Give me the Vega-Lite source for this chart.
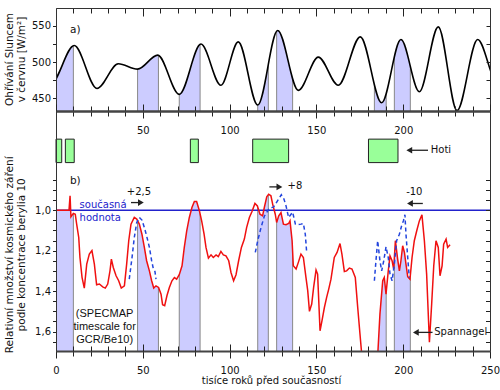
{
  "$schema": "https://vega.github.io/schema/vega-lite/v6.json",
  "padding": {"left": 3, "top": 7, "right": 5, "bottom": 5},
  "config": {"view": {"stroke": null}, "axis": {"grid": false}, "font": "DejaVu Sans"},
  "datasets": {
    "topCurve": [
      {"x": -15, "v": 515}, {"x": -3, "v": 470}, {"x": 10.5, "v": 523}, {"x": 23.6, "v": 463.6}, {"x": 35.9, "v": 497.7},
      {"x": 47, "v": 490.3}, {"x": 58.6, "v": 509.7}, {"x": 71, "v": 455.4}, {"x": 83.5, "v": 525},
      {"x": 95, "v": 468}, {"x": 105, "v": 528}, {"x": 116.2, "v": 440.6}, {"x": 127.7, "v": 543.8},
      {"x": 139.6, "v": 461}, {"x": 151.1, "v": 507}, {"x": 162.6, "v": 468}, {"x": 175.3, "v": 535},
      {"x": 187.6, "v": 443.8}, {"x": 198.7, "v": 531.3}, {"x": 209.3, "v": 459}, {"x": 220.2, "v": 548.8},
      {"x": 231, "v": 433}, {"x": 242.9, "v": 531.3}, {"x": 254, "v": 473}, {"x": 266, "v": 530}
    ],
    "red": [
      {"x": 0, "v": 1.0}, {"x": 7.5, "v": 1.0}, {"x": 8.1, "v": 0.929}, {"x": 8.6, "v": 1.033},
      {"x": 10, "v": 1.016}, {"x": 11.1, "v": 1.02}, {"x": 11.9, "v": 1.069}, {"x": 13.1, "v": 1.135},
      {"x": 13.8, "v": 1.234}, {"x": 15, "v": 1.332}, {"x": 16.3, "v": 1.385}, {"x": 17.7, "v": 1.267},
      {"x": 19.2, "v": 1.217}, {"x": 20.7, "v": 1.2}, {"x": 22.1, "v": 1.267}, {"x": 23.4, "v": 1.369},
      {"x": 25, "v": 1.365}, {"x": 26.9, "v": 1.379}, {"x": 28.4, "v": 1.385}, {"x": 29.8, "v": 1.365},
      {"x": 31.1, "v": 1.3}, {"x": 31.9, "v": 1.242}, {"x": 33, "v": 1.283}, {"x": 34.6, "v": 1.324},
      {"x": 36.1, "v": 1.349}, {"x": 37.6, "v": 1.385}, {"x": 39.4, "v": 1.374}, {"x": 40.7, "v": 1.267},
      {"x": 41.9, "v": 1.151}, {"x": 43.2, "v": 1.069}, {"x": 45.1, "v": 1.036}, {"x": 46.5, "v": 1.044},
      {"x": 48, "v": 1.069}, {"x": 49.5, "v": 1.119}, {"x": 50.9, "v": 1.184}, {"x": 52.2, "v": 1.25},
      {"x": 53.8, "v": 1.3}, {"x": 55.1, "v": 1.349}, {"x": 56.3, "v": 1.385}, {"x": 57.6, "v": 1.374},
      {"x": 59.1, "v": 1.382}, {"x": 60.5, "v": 1.415}, {"x": 61.4, "v": 1.467}, {"x": 62.6, "v": 1.472},
      {"x": 63.9, "v": 1.423}, {"x": 65.3, "v": 1.382}, {"x": 66.8, "v": 1.349}, {"x": 68.2, "v": 1.333},
      {"x": 69.5, "v": 1.341}, {"x": 71, "v": 1.319}, {"x": 72.6, "v": 1.275}, {"x": 73.9, "v": 1.184},
      {"x": 75.3, "v": 1.102}, {"x": 76.8, "v": 1.036}, {"x": 78.3, "v": 0.987}, {"x": 79.7, "v": 0.957},
      {"x": 81, "v": 0.957}, {"x": 82.6, "v": 1.003}, {"x": 83.9, "v": 1.053}, {"x": 85.3, "v": 1.119},
      {"x": 86.4, "v": 1.184}, {"x": 87.8, "v": 1.237}, {"x": 89.3, "v": 1.221}, {"x": 90.6, "v": 1.234},
      {"x": 92.2, "v": 1.221}, {"x": 93.5, "v": 1.23}, {"x": 95, "v": 1.204}, {"x": 96.4, "v": 1.221},
      {"x": 97.9, "v": 1.226}, {"x": 99.5, "v": 1.25}, {"x": 100.8, "v": 1.308}, {"x": 102.3, "v": 1.349},
      {"x": 103.7, "v": 1.319}, {"x": 105.2, "v": 1.25}, {"x": 106.8, "v": 1.184}, {"x": 108.5, "v": 1.143},
      {"x": 109.8, "v": 1.086}, {"x": 111.4, "v": 1.036}, {"x": 112.9, "v": 1.007}, {"x": 114.6, "v": 0.967},
      {"x": 116, "v": 0.979}, {"x": 117.5, "v": 1.02}, {"x": 119, "v": 1.028}, {"x": 120, "v": 0.987},
      {"x": 121.4, "v": 0.934}, {"x": 122.5, "v": 0.921}, {"x": 123.8, "v": 0.929}, {"x": 124.8, "v": 0.97},
      {"x": 126.3, "v": 1.02}, {"x": 127.1, "v": 1.061}, {"x": 128.3, "v": 1.028}, {"x": 129.6, "v": 1.012},
      {"x": 131, "v": 1.069}, {"x": 132.5, "v": 1.072}, {"x": 134, "v": 1.066}, {"x": 134.8, "v": 1.053},
      {"x": 136, "v": 1.151}, {"x": 136.7, "v": 1.275}, {"x": 138.3, "v": 1.291}, {"x": 139.6, "v": 1.258},
      {"x": 141.1, "v": 1.217}, {"x": 142.5, "v": 1.234}, {"x": 144, "v": 1.333}, {"x": 145, "v": 1.398},
      {"x": 146, "v": 1.5}, {"x": 147.3, "v": 1.464}, {"x": 148.4, "v": 1.382}, {"x": 149.8, "v": 1.296},
      {"x": 150.7, "v": 1.316}, {"x": 152.1, "v": 1.596}, {"x": 153.2, "v": 1.547}, {"x": 154.6, "v": 1.481},
      {"x": 155.9, "v": 1.431}, {"x": 157.1, "v": 1.39}, {"x": 158.4, "v": 1.341}, {"x": 160.3, "v": 1.234},
      {"x": 161.9, "v": 1.209}, {"x": 163.6, "v": 1.165}, {"x": 164.7, "v": 1.217}, {"x": 166.1, "v": 1.303},
      {"x": 167.4, "v": 1.3}, {"x": 169, "v": 1.286}, {"x": 170.5, "v": 1.291}, {"x": 172.4, "v": 1.333},
      {"x": 173.8, "v": 1.481}, {"x": 175.1, "v": 1.612}, {"x": 177.5, "v": 1.85}, {"x": 184.5, "v": 1.85},
      {"x": 186.6, "v": 1.514}, {"x": 188.2, "v": 1.349}, {"x": 189.1, "v": 1.333}, {"x": 190.1, "v": 1.415},
      {"x": 191.4, "v": 1.3}, {"x": 192.4, "v": 1.226}, {"x": 193.6, "v": 1.25}, {"x": 194.5, "v": 1.291},
      {"x": 195.5, "v": 1.151}, {"x": 196.8, "v": 1.242}, {"x": 197.8, "v": 1.3}, {"x": 198.7, "v": 1.25},
      {"x": 199.7, "v": 1.176}, {"x": 200.7, "v": 1.209}, {"x": 201.6, "v": 1.267}, {"x": 202.6, "v": 1.329},
      {"x": 203.9, "v": 1.341}, {"x": 205.1, "v": 1.234}, {"x": 206.4, "v": 1.151}, {"x": 207.8, "v": 1.102},
      {"x": 209.3, "v": 1.053}, {"x": 210.8, "v": 1.023}, {"x": 212.2, "v": 1.151}, {"x": 213.5, "v": 1.316},
      {"x": 215.1, "v": 1.653}, {"x": 216.4, "v": 1.464}, {"x": 217.6, "v": 1.275}, {"x": 218.9, "v": 1.151},
      {"x": 220.2, "v": 1.184}, {"x": 221.2, "v": 1.324}, {"x": 222.4, "v": 1.275}, {"x": 223.3, "v": 1.168},
      {"x": 224.7, "v": 1.143}, {"x": 225.6, "v": 1.184}, {"x": 227, "v": 1.171}
    ],
    "blue": [
      {"s": 1, "x": 42.2, "v": 1.341}, {"s": 1, "x": 43.8, "v": 1.234}, {"s": 1, "x": 45.1, "v": 1.135},
      {"s": 1, "x": 46.5, "v": 1.061}, {"s": 1, "x": 48, "v": 1.036}, {"s": 1, "x": 49.5, "v": 1.049},
      {"s": 1, "x": 50.9, "v": 1.086}, {"s": 1, "x": 52.2, "v": 1.127}, {"s": 1, "x": 53.8, "v": 1.184},
      {"s": 1, "x": 55.1, "v": 1.25}, {"s": 1, "x": 56.1, "v": 1.291}, {"s": 1, "x": 57, "v": 1.303},
      {"s": 1, "x": 57.6, "v": 1.341},
      {"s": 2, "x": 114.8, "v": 1.209}, {"s": 2, "x": 116.2, "v": 1.151}, {"s": 2, "x": 118.1, "v": 1.086},
      {"s": 2, "x": 120, "v": 1.03}, {"s": 2, "x": 122.9, "v": 0.99}, {"s": 2, "x": 125.3, "v": 0.985},
      {"s": 2, "x": 127.5, "v": 0.955}, {"s": 2, "x": 129.8, "v": 0.924}, {"s": 2, "x": 131.3, "v": 0.945},
      {"s": 2, "x": 132.5, "v": 0.979}, {"s": 2, "x": 134, "v": 1.036}, {"s": 2, "x": 135.4, "v": 1.02},
      {"s": 2, "x": 136.3, "v": 1.01}, {"s": 2, "x": 137.9, "v": 1.069}, {"s": 2, "x": 139.2, "v": 1.072},
      {"s": 2, "x": 141.1, "v": 1.069}, {"s": 2, "x": 142.5, "v": 1.066}, {"s": 2, "x": 143.6, "v": 1.119},
      {"s": 2, "x": 144.4, "v": 1.209},
      {"s": 3, "x": 183.4, "v": 1.349}, {"s": 3, "x": 184.3, "v": 1.25}, {"s": 3, "x": 185.3, "v": 1.151},
      {"s": 3, "x": 186.6, "v": 1.25}, {"s": 3, "x": 187.6, "v": 1.3}, {"s": 3, "x": 188.8, "v": 1.25},
      {"s": 3, "x": 190.1, "v": 1.181}, {"s": 3, "x": 191.4, "v": 1.234}, {"s": 3, "x": 192.4, "v": 1.316},
      {"s": 3, "x": 193.6, "v": 1.349}, {"s": 3, "x": 194.9, "v": 1.267}, {"s": 3, "x": 196.2, "v": 1.151},
      {"s": 3, "x": 197.8, "v": 1.119}, {"s": 3, "x": 199.1, "v": 1.077}, {"s": 3, "x": 200.1, "v": 1.053},
      {"s": 3, "x": 201, "v": 1.023}, {"s": 3, "x": 201.6, "v": 1.119}, {"s": 3, "x": 202.6, "v": 1.234},
      {"s": 3, "x": 203.5, "v": 1.333}
    ],
    "gaps": [
      {"a": 10, "b": 47}, {"a": 59, "b": 71}, {"a": 83, "b": 116.2}, {"a": 122.3, "b": 127.1},
      {"a": 136.3, "b": 183.4}, {"a": 190.2, "b": 194.9}, {"a": 204.1, "b": 255}
    ],
    "bounds": [
      {"b": 10}, {"b": 47}, {"b": 59}, {"b": 71}, {"b": 83}, {"b": 116.2}, {"b": 122.3},
      {"b": 127.1}, {"b": 136.3}, {"b": 183.4}, {"b": 190.2}, {"b": 194.9}, {"b": 204.1}
    ],
    "hoti": [
      {"a": 0, "b": 3.3}, {"a": 5.4, "b": 10.5}, {"a": 77.4, "b": 82}, {"a": 113.3, "b": 134}, {"a": 180, "b": 197}
    ]
  },
  "spacing": 0,
  "bounds": "flush",
  "vconcat": [
    {
      "width": 434,
      "height": 103,
      "resolve": {"axis": {"x": "independent", "y": "independent"}},
      "layer": [
        {
          "data": {"name": "topCurve"},
          "mark": {"type": "area", "interpolate": "monotone", "color": "#ccccff", "clip": true},
          "encoding": {
            "x": {"field": "x", "type": "quantitative", "scale": {"domain": [0, 250], "nice": false, "zero": false},
              "axis": {"orient": "bottom", "values": [0,10,20,30,40,50,60,70,80,90,100,110,120,130,140,150,160,170,180,190,200,210,220,230,240,250],
                "labelExpr": "datum.value % 50 == 0 && datum.value > 0 && datum.value < 250 ? datum.label : ''",
                "tickSize": {"condition": {"test": "datum.value % 50 == 0", "value": 7}, "value": 5},
                "tickColor": "#222", "domainColor": "#444", "domainWidth": 2, "labelFont": "DejaVu Sans", "labelFontSize": 10,
                "labelColor": "#111", "labelPadding": 7, "labelFlush": false, "labelOverlap": false, "labelBound": false,
                "title": null, "zindex": 1}},
            "y": {"field": "v", "type": "quantitative", "scale": {"domain": [432.4, 574.9], "nice": false, "zero": false},
              "axis": {"orient": "left", "values": [450, 475, 500, 525, 550], "labelExpr": "datum.value % 50 == 0 ? datum.label : ''",
                "tickSize": 3.5, "tickColor": "#222", "domainColor": "#333", "labelFont": "DejaVu Sans", "labelFontSize": 10,
                "labelColor": "#111", "labelPadding": 2, "labelOverlap": false,
                "title": ["Ohřívání Sluncem", "v červnu [W/m²]"], "titleFont": "DejaVu Sans", "titleFontSize": 10.5,
                "titleFontWeight": "normal", "titleColor": "#111", "titleX": -52, "titleY": 51, "titleAngle": -90,
                "titleAlign": "center", "titleBaseline": "top", "titleLineHeight": 12.7, "zindex": 1}},
            "y2": {"datum": 432.4}
          }
        },
        {
          "data": {"name": "gaps"},
          "mark": {"type": "rect", "color": "white", "clip": true},
          "encoding": {
            "x": {"field": "a", "type": "quantitative", "scale": {"domain": [0, 250], "nice": false, "zero": false},
              "axis": {"orient": "top", "values": [0,10,20,30,40,50,60,70,80,90,100,110,120,130,140,150,160,170,180,190,200,210,220,230,240,250],
                "labels": false, "tickSize": {"condition": {"test": "datum.value % 50 == 0", "value": -8}, "value": -5},
                "tickColor": "#222", "domainColor": "#333", "title": null, "zindex": 1}},
            "x2": {"field": "b"},
            "y": {"datum": 432.4, "type": "quantitative", "scale": {"domain": [432.4, 574.9], "nice": false, "zero": false},
              "axis": {"orient": "right", "values": [450, 475, 500, 525, 550], "labels": false, "tickSize": -4,
                "tickColor": "#222", "domainColor": "#333", "title": null, "zindex": 1}},
            "y2": {"datum": 574.9}
          }
        },
        {
          "data": {"name": "bounds"},
          "mark": {"type": "rule", "color": "#888", "strokeWidth": 1, "clip": true},
          "encoding": {
            "x": {"field": "b", "type": "quantitative", "scale": {"domain": [0, 250], "nice": false, "zero": false}, "axis": null},
            "y": {"datum": 432.4, "type": "quantitative", "scale": {"domain": [432.4, 574.9], "nice": false, "zero": false}, "axis": null},
            "y2": {"datum": 574.9}
          }
        },
        {
          "data": {"name": "topCurve"},
          "mark": {"type": "area", "interpolate": "monotone", "color": "white", "clip": true},
          "encoding": {
            "x": {"field": "x", "type": "quantitative", "scale": {"domain": [0, 250], "nice": false, "zero": false}, "axis": null},
            "y": {"field": "v", "type": "quantitative", "scale": {"domain": [432.4, 574.9], "nice": false, "zero": false}, "axis": null},
            "y2": {"datum": 574.9}
          }
        },
        {
          "data": {"name": "topCurve"},
          "mark": {"type": "line", "interpolate": "monotone", "color": "#000", "strokeWidth": 1.6, "clip": true},
          "encoding": {
            "x": {"field": "x", "type": "quantitative", "scale": {"domain": [0, 250], "nice": false, "zero": false}, "axis": null},
            "y": {"field": "v", "type": "quantitative", "scale": {"domain": [432.4, 574.9], "nice": false, "zero": false}, "axis": null}
          }
        },
        {
          "data": {"values": [{}]},
          "mark": {"type": "text", "font": "DejaVu Sans", "fontSize": 10.5, "align": "center", "baseline": "alphabetic", "color": "#111"},
          "encoding": {
            "x": {"datum": 11.1, "type": "quantitative", "scale": {"domain": [0, 250], "nice": false, "zero": false}, "axis": null},
            "y": {"datum": 540.7, "type": "quantitative", "scale": {"domain": [432.4, 574.9], "nice": false, "zero": false}, "axis": null},
            "text": {"value": "a)"}
          }
        }
      ]
    },
    {
      "width": 434,
      "height": 240,
      "resolve": {"axis": {"x": "independent", "y": "independent"}},
      "layer": [
        {
          "data": {"name": "red"},
          "mark": {"type": "area", "color": "#ccccff", "clip": true},
          "encoding": {
            "x": {"field": "x", "type": "quantitative", "scale": {"domain": [0, 250], "nice": false, "zero": false},
              "axis": {"orient": "bottom", "values": [0,10,20,30,40,50,60,70,80,90,100,110,120,130,140,150,160,170,180,190,200,210,220,230,240,250],
                "labelExpr": "datum.value % 50 == 0 ? datum.label : ''",
                "tickSize": {"condition": {"test": "datum.value % 50 == 0", "value": 7}, "value": 5},
                "tickColor": "#222", "domainColor": "#444", "domainWidth": 2, "labelFont": "DejaVu Sans", "labelFontSize": 10,
                "labelColor": "#111", "labelPadding": 7, "labelFlush": false, "labelOverlap": false, "labelBound": false,
                "title": "tisíce roků před současností", "titleFont": "DejaVu Sans", "titleFontSize": 10, "titleFontWeight": "normal",
                "titleColor": "#111", "titleX": 215, "titleY": 32.8, "titleAlign": "center", "titleBaseline": "alphabetic", "zindex": 1}},
            "y": {"field": "v", "type": "quantitative", "scale": {"domain": [0.51, 1.696], "nice": false, "zero": false, "reverse": true},
              "axis": {"orient": "left", "values": [0.85, 0.9, 0.95, 1, 1.05, 1.1, 1.15, 1.2, 1.25, 1.3, 1.35, 1.4, 1.45, 1.5, 1.55, 1.6, 1.65],
                "labelExpr": "abs(datum.value * 5 - round(datum.value * 5)) < 0.001 ? replace(format(datum.value, '.1f'), '.', ',') : ''",
                "tickSize": 3.5, "tickColor": "#222", "domainColor": "#333", "labelFont": "DejaVu Sans", "labelFontSize": 10,
                "labelColor": "#111", "labelPadding": 2, "labelOverlap": false,
                "title": ["Relativní množství kosmického záření", "podle koncentrace berylia 10"], "titleFont": "DejaVu Sans",
                "titleFontSize": 10.5, "titleFontWeight": "normal", "titleColor": "#111", "titleX": -52, "titleY": 143.3,
                "titleAngle": -90, "titleAlign": "center", "titleBaseline": "top", "titleLineHeight": 12.7, "zindex": 1}},
            "y2": {"datum": 1.696}
          }
        },
        {
          "data": {"name": "gaps"},
          "mark": {"type": "rect", "color": "white", "clip": true},
          "encoding": {
            "x": {"field": "a", "type": "quantitative", "scale": {"domain": [0, 250], "nice": false, "zero": false},
              "axis": {"orient": "top", "values": [0,10,20,30,40,50,60,70,80,90,100,110,120,130,140,150,160,170,180,190,200,210,220,230,240,250],
                "labels": false, "tickSize": {"condition": {"test": "datum.value % 50 == 0", "value": 7}, "value": 5},
                "tickColor": "#222", "domainColor": "#444", "domainWidth": 2, "title": null, "zindex": 1}},
            "x2": {"field": "b"},
            "y": {"datum": 0.86, "type": "quantitative", "scale": {"domain": [0.51, 1.696], "nice": false, "zero": false, "reverse": true},
              "axis": {"orient": "right", "values": [0.85, 0.9, 0.95, 1, 1.05, 1.1, 1.15, 1.2, 1.25, 1.3, 1.35, 1.4, 1.45, 1.5, 1.55, 1.6, 1.65],
                "labels": false, "tickSize": -4.5, "tickColor": "#222", "domainColor": "#333", "title": null, "zindex": 1}},
            "y2": {"datum": 1.696}
          }
        },
        {
          "data": {"name": "bounds"},
          "mark": {"type": "rule", "color": "#888", "strokeWidth": 1, "clip": true},
          "encoding": {
            "x": {"field": "b", "type": "quantitative", "scale": {"domain": [0, 250], "nice": false, "zero": false},
              "axis": {"orient": "bottom", "values": [0,10,20,30,40,50,60,70,80,90,100,110,120,130,140,150,160,170,180,190,200,210,220,230,240,250],
                "labels": false, "domain": false, "tickSize": {"condition": {"test": "datum.value % 50 == 0", "value": -7}, "value": -5},
                "tickColor": "#222", "title": null, "zindex": 1}},
            "y": {"datum": 0.87, "type": "quantitative", "scale": {"domain": [0.51, 1.696], "nice": false, "zero": false, "reverse": true}, "axis": null},
            "y2": {"datum": 1.696}
          }
        },
        {
          "data": {"name": "red"},
          "mark": {"type": "area", "color": "white", "clip": true},
          "encoding": {
            "x": {"field": "x", "type": "quantitative", "scale": {"domain": [0, 250], "nice": false, "zero": false}, "axis": null},
            "y": {"field": "v", "type": "quantitative", "scale": {"domain": [0.51, 1.696], "nice": false, "zero": false, "reverse": true}, "axis": null},
            "y2": {"datum": 0.86}
          }
        },
        {
          "data": {"values": [{}]},
          "mark": {"type": "rule", "color": "#2222cc", "strokeWidth": 1.5},
          "encoding": {
            "y": {"datum": 1.0, "type": "quantitative", "scale": {"domain": [0.51, 1.696], "nice": false, "zero": false, "reverse": true}, "axis": null}
          }
        },
        {
          "data": {"name": "red"},
          "mark": {"type": "line", "color": "#f01010", "strokeWidth": 1.5, "clip": true},
          "encoding": {
            "x": {"field": "x", "type": "quantitative", "scale": {"domain": [0, 250], "nice": false, "zero": false}, "axis": null},
            "y": {"field": "v", "type": "quantitative", "scale": {"domain": [0.51, 1.696], "nice": false, "zero": false, "reverse": true}, "axis": null}
          }
        },
        {
          "data": {"name": "blue"},
          "mark": {"type": "line", "color": "#2244dd", "strokeWidth": 1.5, "strokeDash": [4, 3], "clip": true},
          "encoding": {
            "x": {"field": "x", "type": "quantitative", "scale": {"domain": [0, 250], "nice": false, "zero": false}, "axis": null},
            "y": {"field": "v", "type": "quantitative", "scale": {"domain": [0.51, 1.696], "nice": false, "zero": false, "reverse": true}, "axis": null},
            "detail": {"field": "s", "type": "nominal"}
          }
        },
        {
          "data": {"name": "hoti"},
          "mark": {"type": "rect", "color": "#99ff99", "stroke": "#222", "strokeWidth": 1},
          "encoding": {
            "x": {"field": "a", "type": "quantitative", "scale": {"domain": [0, 250], "nice": false, "zero": false}, "axis": null},
            "x2": {"field": "b"},
            "y": {"datum": 0.649, "type": "quantitative", "scale": {"domain": [0.51, 1.696], "nice": false, "zero": false, "reverse": true}, "axis": null},
            "y2": {"datum": 0.765}
          }
        },
        {
          "data": {"values": [{}]},
          "mark": {"type": "text", "font": "DejaVu Sans", "fontSize": 10.5, "align": "center", "baseline": "alphabetic", "color": "#111"},
          "encoding": {
            "x": {"datum": 11.1, "type": "quantitative", "scale": {"domain": [0, 250], "nice": false, "zero": false}, "axis": null},
            "y": {"datum": 0.869, "type": "quantitative", "scale": {"domain": [0.51, 1.696], "nice": false, "zero": false, "reverse": true}, "axis": null},
            "text": {"value": "b)"}
          }
        },
        {
          "data": {"values": [{}]},
          "mark": {"type": "text", "font": "DejaVu Sans", "fontSize": 10, "align": "left", "baseline": "alphabetic", "color": "#2222cc"},
          "encoding": {
            "x": {"datum": 13.6, "type": "quantitative", "scale": {"domain": [0, 250], "nice": false, "zero": false}, "axis": null},
            "y": {"datum": 0.987, "type": "quantitative", "scale": {"domain": [0.51, 1.696], "nice": false, "zero": false, "reverse": true}, "axis": null},
            "text": {"value": "současná"}
          }
        },
        {
          "data": {"values": [{}]},
          "mark": {"type": "text", "font": "DejaVu Sans", "fontSize": 10, "align": "left", "baseline": "alphabetic", "color": "#2222cc"},
          "encoding": {
            "x": {"datum": 13.6, "type": "quantitative", "scale": {"domain": [0, 250], "nice": false, "zero": false}, "axis": null},
            "y": {"datum": 1.056, "type": "quantitative", "scale": {"domain": [0.51, 1.696], "nice": false, "zero": false, "reverse": true}, "axis": null},
            "text": {"value": "hodnota"}
          }
        },
        {
          "data": {"values": [{}]},
          "mark": {"type": "text", "font": "DejaVu Sans", "fontSize": 10, "align": "center", "baseline": "alphabetic", "color": "#111"},
          "encoding": {
            "x": {"datum": 47.8, "type": "quantitative", "scale": {"domain": [0, 250], "nice": false, "zero": false}, "axis": null},
            "y": {"datum": 0.924, "type": "quantitative", "scale": {"domain": [0.51, 1.696], "nice": false, "zero": false, "reverse": true}, "axis": null},
            "text": {"value": "+2,5"}
          }
        },
        {
          "data": {"values": [{}]},
          "mark": {"type": "text", "font": "DejaVu Sans", "fontSize": 10, "align": "left", "baseline": "alphabetic", "color": "#111"},
          "encoding": {
            "x": {"datum": 133.4, "type": "quantitative", "scale": {"domain": [0, 250], "nice": false, "zero": false}, "axis": null},
            "y": {"datum": 0.896, "type": "quantitative", "scale": {"domain": [0.51, 1.696], "nice": false, "zero": false, "reverse": true}, "axis": null},
            "text": {"value": "+8"}
          }
        },
        {
          "data": {"values": [{}]},
          "mark": {"type": "text", "font": "DejaVu Sans", "fontSize": 10, "align": "center", "baseline": "alphabetic", "color": "#111"},
          "encoding": {
            "x": {"datum": 206.4, "type": "quantitative", "scale": {"domain": [0, 250], "nice": false, "zero": false}, "axis": null},
            "y": {"datum": 0.924, "type": "quantitative", "scale": {"domain": [0.51, 1.696], "nice": false, "zero": false, "reverse": true}, "axis": null},
            "text": {"value": "-10"}
          }
        },
        {
          "data": {"values": [{}]},
          "mark": {"type": "text", "font": "DejaVu Sans", "fontSize": 10, "align": "left", "baseline": "alphabetic", "color": "#111"},
          "encoding": {
            "x": {"datum": 215.9, "type": "quantitative", "scale": {"domain": [0, 250], "nice": false, "zero": false}, "axis": null},
            "y": {"datum": 0.72, "type": "quantitative", "scale": {"domain": [0.51, 1.696], "nice": false, "zero": false, "reverse": true}, "axis": null},
            "text": {"value": "Hoti"}
          }
        },
        {
          "data": {"values": [{}]},
          "mark": {"type": "text", "font": "DejaVu Sans", "fontSize": 10, "align": "left", "baseline": "alphabetic", "color": "#111"},
          "encoding": {
            "x": {"datum": 217.9, "type": "quantitative", "scale": {"domain": [0, 250], "nice": false, "zero": false}, "axis": null},
            "y": {"datum": 1.616, "type": "quantitative", "scale": {"domain": [0.51, 1.696], "nice": false, "zero": false, "reverse": true}, "axis": null},
            "text": {"value": "Spannagel"}
          }
        },
        {
          "data": {"values": [{}]},
          "mark": {"type": "text", "font": "Liberation Sans", "fontSize": 11, "align": "center", "baseline": "alphabetic", "lineHeight": 13, "color": "#111"},
          "encoding": {
            "x": {"datum": 28.0, "type": "quantitative", "scale": {"domain": [0, 250], "nice": false, "zero": false}, "axis": null},
            "y": {"datum": 1.530, "type": "quantitative", "scale": {"domain": [0.51, 1.696], "nice": false, "zero": false, "reverse": true}, "axis": null},
            "text": {"value": ["(SPECMAP", "timescale for", "GCR/Be10)"]}
          }
        },
        {
          "data": {"values": [{}]},
          "mark": {"type": "rule", "color": "#222", "strokeWidth": 1.3},
          "encoding": {
            "x": {"datum": 43.2, "type": "quantitative", "scale": {"domain": [0, 250], "nice": false, "zero": false}, "axis": null},
            "x2": {"datum": 49},
            "y": {"datum": 0.9625, "type": "quantitative", "scale": {"domain": [0.51, 1.696], "nice": false, "zero": false, "reverse": true}, "axis": null}
          }
        },
        {
          "data": {"values": [{}]},
          "mark": {"type": "point", "shape": "triangle-right", "filled": true, "size": 45, "color": "#222", "opacity": 1},
          "encoding": {
            "x": {"datum": 48.9, "type": "quantitative", "scale": {"domain": [0, 250], "nice": false, "zero": false}, "axis": null},
            "y": {"datum": 0.9625, "type": "quantitative", "scale": {"domain": [0.51, 1.696], "nice": false, "zero": false, "reverse": true}, "axis": null}
          }
        },
        {
          "data": {"values": [{}]},
          "mark": {"type": "rule", "color": "#222", "strokeWidth": 1.3},
          "encoding": {
            "x": {"datum": 122.9, "type": "quantitative", "scale": {"domain": [0, 250], "nice": false, "zero": false}, "axis": null},
            "x2": {"datum": 129},
            "y": {"datum": 0.885, "type": "quantitative", "scale": {"domain": [0.51, 1.696], "nice": false, "zero": false, "reverse": true}, "axis": null}
          }
        },
        {
          "data": {"values": [{}]},
          "mark": {"type": "point", "shape": "triangle-right", "filled": true, "size": 45, "color": "#222", "opacity": 1},
          "encoding": {
            "x": {"datum": 128.7, "type": "quantitative", "scale": {"domain": [0, 250], "nice": false, "zero": false}, "axis": null},
            "y": {"datum": 0.885, "type": "quantitative", "scale": {"domain": [0.51, 1.696], "nice": false, "zero": false, "reverse": true}, "axis": null}
          }
        },
        {
          "data": {"values": [{}]},
          "mark": {"type": "rule", "color": "#222", "strokeWidth": 1.3},
          "encoding": {
            "x": {"datum": 203.5, "type": "quantitative", "scale": {"domain": [0, 250], "nice": false, "zero": false}, "axis": null},
            "x2": {"datum": 211.3},
            "y": {"datum": 0.967, "type": "quantitative", "scale": {"domain": [0.51, 1.696], "nice": false, "zero": false, "reverse": true}, "axis": null}
          }
        },
        {
          "data": {"values": [{}]},
          "mark": {"type": "point", "shape": "triangle-left", "filled": true, "size": 45, "color": "#222", "opacity": 1},
          "encoding": {
            "x": {"datum": 203.9, "type": "quantitative", "scale": {"domain": [0, 250], "nice": false, "zero": false}, "axis": null},
            "y": {"datum": 0.967, "type": "quantitative", "scale": {"domain": [0.51, 1.696], "nice": false, "zero": false, "reverse": true}, "axis": null}
          }
        },
        {
          "data": {"values": [{}]},
          "mark": {"type": "rule", "color": "#222", "strokeWidth": 1.3},
          "encoding": {
            "x": {"datum": 203.5, "type": "quantitative", "scale": {"domain": [0, 250], "nice": false, "zero": false}, "axis": null},
            "x2": {"datum": 214.3},
            "y": {"datum": 0.704, "type": "quantitative", "scale": {"domain": [0.51, 1.696], "nice": false, "zero": false, "reverse": true}, "axis": null}
          }
        },
        {
          "data": {"values": [{}]},
          "mark": {"type": "point", "shape": "triangle-left", "filled": true, "size": 45, "color": "#222", "opacity": 1},
          "encoding": {
            "x": {"datum": 203.5, "type": "quantitative", "scale": {"domain": [0, 250], "nice": false, "zero": false}, "axis": null},
            "y": {"datum": 0.704, "type": "quantitative", "scale": {"domain": [0.51, 1.696], "nice": false, "zero": false, "reverse": true}, "axis": null}
          }
        },
        {
          "data": {"values": [{}]},
          "mark": {"type": "rule", "color": "#222", "strokeWidth": 1.3},
          "encoding": {
            "x": {"datum": 207.2, "type": "quantitative", "scale": {"domain": [0, 250], "nice": false, "zero": false}, "axis": null},
            "x2": {"datum": 216.9},
            "y": {"datum": 1.604, "type": "quantitative", "scale": {"domain": [0.51, 1.696], "nice": false, "zero": false, "reverse": true}, "axis": null}
          }
        },
        {
          "data": {"values": [{}]},
          "mark": {"type": "point", "shape": "triangle-left", "filled": true, "size": 45, "color": "#222", "opacity": 1},
          "encoding": {
            "x": {"datum": 207.3, "type": "quantitative", "scale": {"domain": [0, 250], "nice": false, "zero": false}, "axis": null},
            "y": {"datum": 1.604, "type": "quantitative", "scale": {"domain": [0.51, 1.696], "nice": false, "zero": false, "reverse": true}, "axis": null}
          }
        }
      ]
    }
  ]
}
